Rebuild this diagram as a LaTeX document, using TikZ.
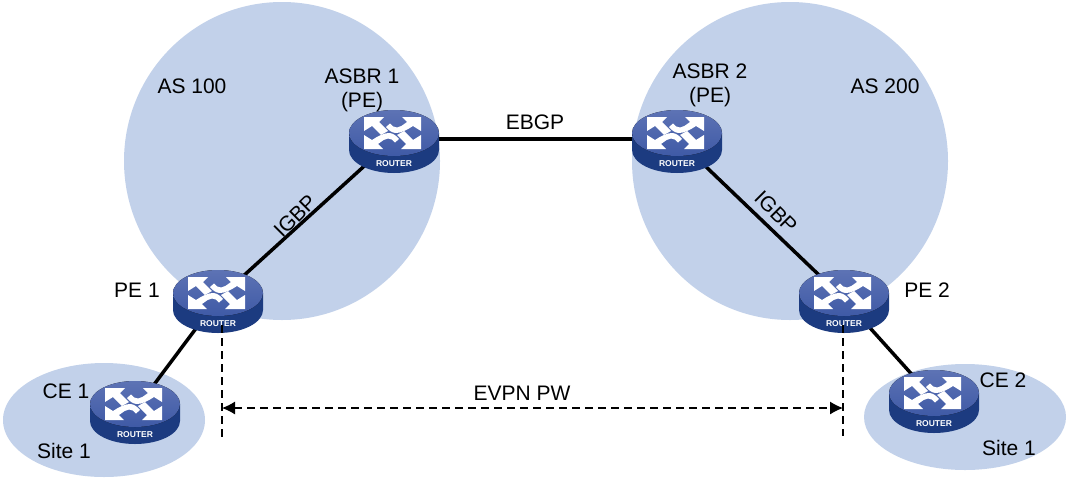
\documentclass[tikz,border=0pt]{standalone}
\usepackage{fontspec}
\setmainfont{Liberation Sans}
\usetikzlibrary{arrows.meta}
\definecolor{cloud}{HTML}{C2D1EA}
\definecolor{rtop}{HTML}{4B63AC}
\definecolor{rtoplo}{HTML}{3F5AA6}
\definecolor{rside}{HTML}{1C3B80}
\tikzset{
  cloudshape/.style={fill=cloud,draw=none},
  link/.style={line width=3.5pt,black},
  lbl/.style={font=\fontsize{21}{24}\selectfont,inner sep=0pt,align=center,text=black},
  dashline/.style={line width=1.1pt,dash pattern=on 8pt off 5pt,black},
  anchorpt/.style={inner sep=0pt,minimum size=0pt,outer sep=0pt},
  glyphhalf/.pic={
    \fill[white] (-30,-16) -- (-10,-16) -- (-15,-11) -- (-6,-2) -- (-13,2) -- (-22,-7) -- (-30,-2) -- cycle;
    \fill[white] (27,-16) -- (8,-16) -- (13,-11) .. controls (8,-7.5) and (6,-5.5) .. (3,-5.5) .. controls (0,-5.5) and (-2,-7) .. (-4,-9.5) -- (-8,-6) .. controls (-5,-2) and (-1,0) .. (2,0) .. controls (7,0) and (13,-3) .. (19,-7) -- (27,-2) -- cycle;
  },
  pics/router/.style={code={
    \fill[rside] (-45,0) -- (-45,17) arc[start angle=180,end angle=0,x radius=45,y radius=23] -- (45,0) -- cycle;
    \fill[top color=rtop!90!white,bottom color=rtoplo] (0,0) ellipse[x radius=45,y radius=23];
    \pic at (0,0) {glyphhalf};
    \pic[rotate=180] at (-3,0) {glyphhalf};
    \node[text=white,font=\bfseries\fontsize{8.5}{9}\selectfont,inner sep=0pt] at (0,31) {ROUTER};
  }}
}
\begin{document}
\begin{tikzpicture}[x=1pt,y=-1pt]
\useasboundingbox (0,0) rectangle (1070,480);
\fill[white] (0,0) rectangle (1070,480);
\fill[cloudshape] (282,161) ellipse[x radius=158,y radius=159];
\fill[cloudshape] (790,161) ellipse[x radius=158,y radius=159];
\fill[cloudshape] (104,420) ellipse[x radius=101,y radius=57];
\fill[cloudshape] (965,417) ellipse[x radius=101,y radius=53];

\node[anchorpt] (asbr1) at (394,139) {};
\node[anchorpt] (asbr2) at (677,139) {};
\node[anchorpt] (pe1) at (218,299) {};
\node[anchorpt] (pe2) at (844,299) {};
\node[anchorpt] (ce1) at (135,410) {};
\node[anchorpt] (ce2) at (934,399) {};
\coordinate (dl1) at (222,325);
\coordinate (dl2) at (222,441);
\coordinate (dr1) at (843,325);
\coordinate (dr2) at (843,436);
\coordinate (al) at (222,408);
\coordinate (ar) at (843,408);

\draw[link] (asbr1) -- (asbr2);
\draw[link] (asbr1) -- (pe1);
\draw[link] (asbr2) -- (pe2);
\draw[link] (pe1) -- (ce1);
\draw[link] (pe2) -- (ce2);

\pic at (394,133) {router};
\pic at (677,133) {router};
\pic at (218,293) {router};
\pic at (844,293) {router};
\pic at (135,404) {router};
\pic at (934,393) {router};

\draw[dashline] (dl1) -- (dl2);
\draw[dashline] (dr1) -- (dr2);
\draw[dashline,{Latex[length=13pt,width=13pt]}-{Latex[length=13pt,width=13pt]}] (al) -- (ar);

\node[lbl] (t1) at (192,86) {AS 100};
\node[lbl] (t2) at (885,86) {AS 200};
\node[lbl] (t3) at (362,90) {ASBR 1\\(PE)};
\node[lbl] (t4) at (710,85) {ASBR 2\\(PE)};
\node[lbl] (t5) at (535,122) {EBGP};
\node[lbl,rotate=45] (t6) at (295,216) {IGBP};
\node[lbl,rotate=-45] (t7) at (776,212) {IGBP};
\node[lbl] (t8) at (137,290) {PE 1};
\node[lbl] (t9) at (927,290) {PE 2};
\node[lbl] (t10) at (66,391) {CE 1};
\node[lbl] (t11) at (1003,380) {CE 2};
\node[lbl] (t12) at (64,451) {Site 1};
\node[lbl] (t13) at (1009,448) {Site 1};
\node[lbl] (t14) at (522,393) {EVPN PW};
\end{tikzpicture}
\end{document}
